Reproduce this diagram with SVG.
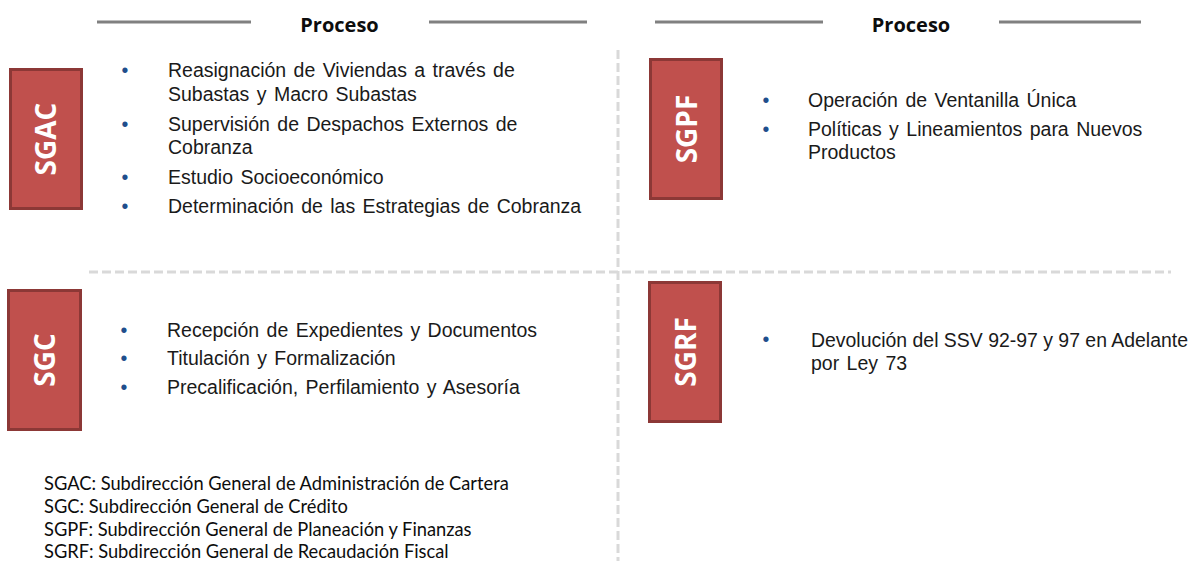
<svg xmlns="http://www.w3.org/2000/svg" width="1194" height="561" viewBox="0 0 1194 561">
<style>
.hdr{stroke:#808080;stroke-width:3;fill:none}
.div{stroke:#D9D9D9;stroke-width:3;stroke-dasharray:9 4;fill:none}
.htxt{font-family:"Open Sans","DejaVu Sans",sans-serif;font-weight:bold;font-size:20px;fill:#0d0d0d;text-anchor:middle}
.box{fill:#C0504D;stroke:#8C3836;stroke-width:3}
.blab{font-family:"Open Sans","DejaVu Sans",sans-serif;font-weight:bold;font-size:28px;fill:#ffffff;text-anchor:middle}
.item{font-family:"Liberation Sans",Arial,sans-serif;font-size:19.5px;fill:#1a1a1a;word-spacing:2px}
.bul{font-family:"Liberation Sans",Arial,sans-serif;font-size:19.5px;fill:#1F4E8C;text-anchor:middle}
.leg{font-family:Lato,"Open Sans",sans-serif;font-size:18.3px;fill:#0d0d0d}
</style>
<rect width="1194" height="561" fill="#ffffff"/>
<g id="dividers">
<line class="div" x1="89" y1="272" x2="1171" y2="272"/>
<line class="div" x1="618" y1="50" x2="618" y2="561"/>
</g>
<g id="header-left">
<line class="hdr" x1="97" y1="22" x2="251" y2="22"/>
<line class="hdr" x1="429" y1="22" x2="587" y2="22"/>
<text class="htxt" x="339.5" y="31.5">Proceso</text>
</g>
<g id="header-right">
<line class="hdr" x1="655" y1="22" x2="823" y2="22"/>
<line class="hdr" x1="999" y1="22" x2="1141" y2="22"/>
<text class="htxt" x="911" y="31.5">Proceso</text>
</g>
<g id="SGAC">
<rect class="box" x="10.5" y="69.5" width="71" height="139"/>
<text class="blab" transform="translate(46,139) rotate(-90)" x="0" y="10">SGAC</text>
<text class="bul" x="125" y="77">•</text>
<text class="item" x="168" y="77">Reasignación de Viviendas a través de</text>
<text class="item" x="168" y="101">Subastas y Macro Subastas</text>
<text class="bul" x="125" y="131">•</text>
<text class="item" x="168" y="131">Supervisión de Despachos Externos de</text>
<text class="item" x="168" y="154">Cobranza</text>
<text class="bul" x="125" y="184">•</text>
<text class="item" x="168" y="184">Estudio Socioeconómico</text>
<text class="bul" x="125" y="213">•</text>
<text class="item" x="168" y="213">Determinación de las Estrategias de Cobranza</text>
</g>
<g id="SGC">
<rect class="box" x="8.5" y="290.5" width="72" height="139"/>
<text class="blab" transform="translate(45,360) rotate(-90)" x="0" y="10">SGC</text>
<text class="bul" x="124" y="337">•</text>
<text class="item" x="167" y="337">Recepción de Expedientes y Documentos</text>
<text class="bul" x="124" y="365">•</text>
<text class="item" x="167" y="365">Titulación y Formalización</text>
<text class="bul" x="124" y="394">•</text>
<text class="item" x="167" y="394">Precalificación, Perfilamiento y Asesoría</text>
</g>
<g id="SGPF">
<rect class="box" x="650.5" y="59.5" width="71" height="139"/>
<text class="blab" transform="translate(686.5,129) rotate(-90)" x="0" y="10">SGPF</text>
<text class="bul" x="766" y="107">•</text>
<text class="item" x="808" y="107">Operación de Ventanilla Única</text>
<text class="bul" x="766" y="136">•</text>
<text class="item" x="808" y="136">Políticas y Lineamientos para Nuevos</text>
<text class="item" x="808" y="159">Productos</text>
</g>
<g id="SGRF">
<rect class="box" x="649.5" y="282.5" width="71" height="139"/>
<text class="blab" transform="translate(685.5,352) rotate(-90)" x="0" y="10">SGRF</text>
<text class="bul" x="766" y="346">•</text>
<text class="item" x="811" y="347" textLength="377" lengthAdjust="spacingAndGlyphs" style="word-spacing:0">Devolución del SSV 92-97 y 97 en Adelante</text>
<text class="item" x="811" y="370">por Ley 73</text>
</g>
<g id="legend">
<text class="leg" x="44" y="490">SGAC: Subdirección General de Administración de Cartera</text>
<text class="leg" x="44" y="513">SGC: Subdirección General de Crédito</text>
<text class="leg" x="44" y="536">SGPF: Subdirección General de Planeación y Finanzas</text>
<text class="leg" x="44" y="557.5">SGRF: Subdirección General de Recaudación Fiscal</text>
</g>
</svg>
